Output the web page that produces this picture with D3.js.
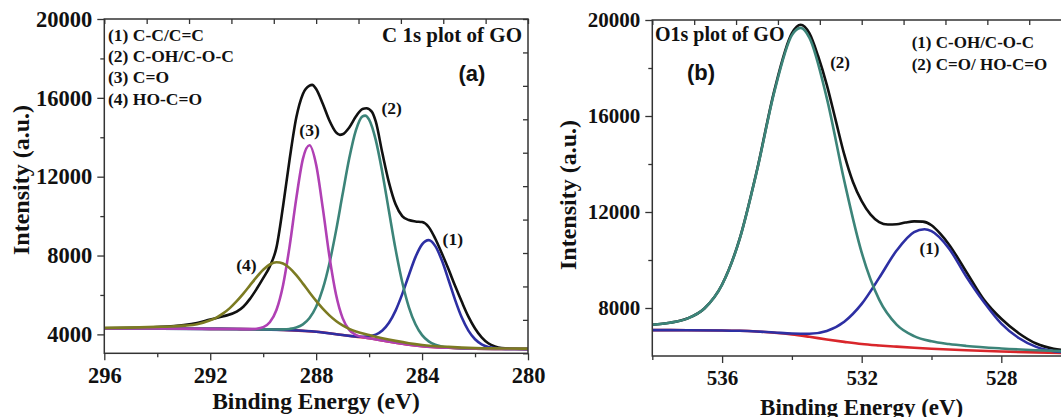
<!DOCTYPE html>
<html>
<head>
<meta http-equiv="Content-Type" content="text/html; charset=utf-8">
<title>XPS C 1s and O1s of GO</title>
<script src="https://d3js.org/d3.v7.min.js"></script>
<style>
  body { margin: 0; background: #ffffff; }
  svg text { font-family: "Liberation Serif", "Times New Roman", serif; font-weight: bold; fill: #111; }
  .axis line { stroke: #333; stroke-width: 1.3; }
  .axis path { display: none; }
  .frame { fill: none; stroke: #333; stroke-width: 1.5; }
  .curve { fill: none; stroke-width: 2.6; stroke-linejoin: round; }
</style>
</head>
<body>
<svg id="chart" width="1061" height="417"></svg>
<script>
// ---- C 1s panel (a): [binding energy eV, intensity a.u.]
var c1sEnvelope = [[296,4305],[295,4330],[294,4370],[293,4470],[292.5,4580],[292,4760],[291.5,4920],[291,5150],[290.75,5400],[290.5,5800],[290.25,6300],[290,6850],[289.75,7450],[289.5,8400],[289.25,10500],[289,12900],[288.75,15000],[288.5,16200],[288.25,16620],[288.15,16660],[288,16450],[287.75,15700],[287.5,14850],[287.25,14250],[287.1,14120],[287,14150],[286.75,14500],[286.5,15050],[286.25,15440],[286.1,15470],[285.9,15300],[285.75,14800],[285.5,13200],[285.25,11700],[285,10600],[284.75,10000],[284.5,9800],[284.25,9730],[284,9700],[283.75,9450],[283.5,8850],[283.25,8100],[283,7300],[282.75,6450],[282.5,5650],[282.25,4900],[282,4300],[281.75,3850],[281.5,3550],[281.25,3390],[281,3310],[280.5,3270],[280,3256]];
var c1sBackground = [[296,4305],[295,4300],[294,4295],[293,4290],[292,4280],[291,4270],[290,4255],[289.5,4240],[289,4215],[288.5,4180],[288,4135],[287.5,4060],[287,3965],[286.5,3880],[286,3800],[285.5,3690],[285,3580],[284.5,3480],[284,3405],[283.5,3355],[283,3320],[282.5,3290],[282,3272],[281,3260],[280,3254]];
var c1sPeak1 = [[296,4305],[294,4295],[292,4280],[290,4255],[289,4215],[288,4135],[287,3965],[286.5,3895],[286.25,3883],[286,3907],[285.75,3990],[285.5,4197],[285.25,4589],[285,5205],[284.75,6041],[284.5,7000],[284.25,7919],[284,8567],[283.75,8780],[283.5,8477],[283.25,7744],[283,6759],[282.75,5739],[282.5,4852],[282.25,4190],[282,3752],[281.75,3499],[281.5,3366],[281.25,3302],[281,3274],[280.5,3257],[280,3254]];
var c1sPeak2 = [[296,4305],[294,4295],[292,4280],[290,4255],[289.5,4248],[289.25,4252],[289,4277],[288.75,4347],[288.5,4508],[288.25,4830],[288,5403],[287.75,6306],[287.5,7598],[287.25,9251],[287,11117],[286.75,12931],[286.5,14348],[286.25,15061],[286.15,15100],[286,14895],[285.75,13865],[285.5,12205],[285.25,10244],[285,8312],[284.75,6655],[284.5,5384],[284.25,4513],[284,3960],[283.75,3645],[283.5,3472],[283.25,3385],[283,3338],[282.5,3290],[282,3272],[281,3260],[280,3254]];
var c1sPeak3 = [[296,4305],[294,4295],[292,4280],[291,4270],[290.5,4268],[290.25,4287],[290,4365],[289.75,4612],[289.5,5236],[289.25,6494],[289,8490],[288.75,10901],[288.5,12906],[288.25,13594],[288,12605],[287.75,10415],[287.5,7970],[287.25,6023],[287,4824],[286.75,4227],[286.5,3970],[286.25,3862],[286,3800],[285,3580],[284,3405],[283,3320],[282,3272],[281,3260],[280,3254]];
var c1sPeak4 = [[296,4330],[295,4345],[294,4380],[293.5,4399],[293,4442],[292.5,4516],[292,4713],[291.75,4865],[291.5,5077],[291.25,5346],[291,5684],[290.75,6068],[290.5,6486],[290.25,6903],[290,7276],[289.75,7545],[289.5,7662],[289.25,7595],[289,7362],[288.75,7002],[288.5,6575],[288.25,6127],[288,5699],[287.75,5305],[287.5,4966],[287.25,4681],[287,4455],[286.75,4282],[286.5,4149],[286,3965],[285.5,3805],[285,3669],[284.5,3552],[284,3465],[283,3364],[282,3305],[281,3286],[280,3275]];
var c1sXTicks = [296, 292, 288, 284, 280];
var c1sXMinor = [294, 290, 286, 282];
var c1sYTicks = [4000, 8000, 12000, 16000, 20000];
var c1sYMinor = [6000, 10000, 14000, 18000];
var c1sLegend = ["(1) C-C/C=C", "(2) C-OH/C-O-C", "(3) C=O", "(4) HO-C=O"];
var c1sPeakLabels = [["(1)", 282.84, 8840], ["(2)", 285.15, 15470], ["(3)", 288.25, 14400], ["(4)", 290.63, 7520]];

// ---- O1s panel (b)
var o1sEnvelope = [[538,7305],[537.5,7384],[537,7560],[536.5,7990],[536,8980],[535.5,10870],[535,13750],[534.5,17080],[534,19450],[533.75,19800],[533.5,19450],[533.25,18500],[533,17300],[532.75,15850],[532.5,14400],[532.25,13250],[532,12450],[531.75,11900],[531.5,11580],[531.25,11480],[531,11490],[530.75,11560],[530.5,11610],[530.25,11600],[530,11450],[529.75,11100],[529.5,10650],[529,9500],[528.5,8350],[528,7550],[527.5,6950],[527,6520],[526.5,6300],[526,6220]];
var o1sBackground = [[538,7080],[537,7075],[536,7065],[535.5,7050],[535,7020],[534.5,6970],[534,6900],[533.5,6800],[533,6690],[532.5,6590],[532,6500],[531.5,6440],[531,6390],[530.5,6345],[530,6305],[529,6240],[528,6190],[527,6150],[526,6120]];
var o1sPeak1 = [[538,7080],[537,7075],[536,7065],[535.5,7050],[535,7020],[534.5,6980],[534,6939],[533.5,6928],[533,7046],[532.5,7429],[532,8172],[531.5,9254],[531,10394],[530.5,11162],[530.2,11280],[530,11204],[529.5,10483],[529,9301],[528.5,8250],[528,7350],[527.5,6750],[527,6380],[526.5,6200],[526,6140]];
var o1sPeak2 = [[538,7305],[537.5,7384],[537,7559],[536.5,7988],[536,8973],[535.5,10855],[535,13729],[534.5,17023],[534,19367],[533.75,19670],[533.5,19267],[533,16743],[532.5,13299],[532,10305],[531.5,8348],[531,7308],[530.5,6829],[530,6611],[529.5,6497],[529,6419],[528,6315],[527,6242],[526,6190]];
var o1sXTicks = [536, 532, 528];
var o1sXMinor = [538, 534, 530, 526];
var o1sYTicks = [8000, 12000, 16000, 20000];
var o1sYMinor = [10000, 14000, 18000];
var o1sLegend = ["(1) C-OH/C-O-C", "(2) C=O/ HO-C=O"];
var o1sPeakLabels = [["(2)", 532.62, 18260], ["(1)", 530.06, 10490]];

var colors = { envelope: "#111111", background: "#d9262b", p1: "#2d2fa3", p2: "#3c8479", p3: "#b040b4", p4: "#7c7b22" };

var svg = d3.select("#chart");

function drawPanel(p) {
  var x = d3.scaleLinear().domain(p.xDomain).range([p.left, p.right]);
  var y = d3.scaleLinear().domain(p.yDomain).range([p.bottom, p.top]);
  var g = svg.append("g");

  var clipId = "clip-" + p.id;
  g.append("clipPath").attr("id", clipId)
    .append("rect").attr("x", p.left).attr("y", p.top - 4)
    .attr("width", p.right - p.left).attr("height", p.bottom - p.top + 4);

  var line = d3.line()
    .x(function(d) { return x(d[0]); })
    .y(function(d) { return y(d[1]); })
    .curve(d3.curveMonotoneX);

  var plot = g.append("g").attr("clip-path", "url(#" + clipId + ")");
  p.curves.forEach(function(c) {
    plot.append("path").attr("class", "curve")
      .attr("d", line(c.data))
      .attr("stroke", c.color);
  });

  // frame
  g.append("rect").attr("class", "frame")
    .attr("x", p.left).attr("y", p.top)
    .attr("width", p.right - p.left).attr("height", p.bottom - p.top);

  // bottom axis: major with labels, minor without
  g.append("g").attr("class", "axis").attr("transform", "translate(0," + p.bottom + ")")
    .call(d3.axisBottom(x).tickValues(p.xTicks).tickSize(7).tickPadding(p.xTickPad).tickFormat(d3.format("d")))
    .selectAll("text").style("font-size", p.tickFont).attr("fill", "#111");
  g.append("g").attr("class", "axis").attr("transform", "translate(0," + p.bottom + ")")
    .call(d3.axisBottom(x).tickValues(p.xMinor).tickSize(4).tickFormat(""));

  // left axis
  g.append("g").attr("class", "axis").attr("transform", "translate(" + p.left + ",0)")
    .call(d3.axisLeft(y).tickValues(p.yTicks).tickSize(7).tickPadding(5).tickFormat(d3.format("d")))
    .selectAll("text").style("font-size", p.tickFont).attr("fill", "#111");
  g.append("g").attr("class", "axis").attr("transform", "translate(" + p.left + ",0)")
    .call(d3.axisLeft(y).tickValues(p.yMinor).tickSize(4).tickFormat(""));

  // opposite axes: ten divisions, ticks pointing inward
  var topScale = d3.scaleLinear().domain([0, 10]).range([p.left, p.right]);
  g.append("g").attr("class", "axis").attr("transform", "translate(0," + p.top + ")")
    .call(d3.axisBottom(topScale).ticks(10).tickSize(5).tickFormat(""));
  var rightScale = d3.scaleLinear().domain([0, 10]).range([p.bottom, p.top]);
  g.append("g").attr("class", "axis").attr("transform", "translate(" + p.right + ",0)")
    .call(d3.axisLeft(rightScale).ticks(10).tickSize(5).tickFormat(""));

  // axis titles
  g.append("text").attr("x", p.xTitleX).attr("y", p.xTitleY)
    .attr("text-anchor", "middle").style("font-size", p.titleFont).text("Binding Energy (eV)");
  g.append("text").attr("transform", "translate(" + p.yTitleX + "," + p.yTitleY + ") rotate(-90)")
    .attr("text-anchor", "middle").style("font-size", "24px").text("Intensity (a.u.)");

  // title inside plot
  g.append("text").attr("x", p.titleX).attr("y", p.titleY).attr("text-anchor", p.titleAnchor)
    .style("font-size", p.headFont).text(p.title);
  g.append("text").attr("x", p.tagX).attr("y", p.tagY).attr("text-anchor", "middle")
    .style("font-family", "'Liberation Sans', Arial, sans-serif").style("font-size", "22px")
    .text(p.tag);

  // legend text
  g.selectAll(".legend").data(p.legend).enter().append("text")
    .attr("x", p.legendX).attr("y", function(d, i) { return p.legendY + i * p.legendStep; })
    .style("font-size", p.legendFont).text(function(d) { return d; });

  // peak labels
  g.selectAll(".peak").data(p.peakLabels).enter().append("text")
    .attr("x", function(d) { return x(d[1]); })
    .attr("y", function(d) { return y(d[2]); })
    .attr("dy", "0.35em").attr("text-anchor", "middle")
    .style("font-size", p.legendFont).text(function(d) { return d[0]; });
}

drawPanel({
  id: "c1s", left: 104.3, right: 528, top: 19, bottom: 353.3,
  xDomain: [296, 280], yDomain: [3040, 20000],
  xTicks: c1sXTicks, xMinor: c1sXMinor, yTicks: c1sYTicks, yMinor: c1sYMinor,
  curves: [
    { data: c1sEnvelope, color: colors.envelope },
    { data: c1sBackground, color: colors.background },
    { data: c1sPeak1, color: colors.p1 },
    { data: c1sPeak2, color: colors.p2 },
    { data: c1sPeak3, color: colors.p3 },
    { data: c1sPeak4, color: colors.p4 }
  ],
  tickFont: "22.5px", xTickPad: 7, titleFont: "23.5px", headFont: "21px", legendFont: "17.5px",
  xTitleX: 316, xTitleY: 409, yTitleX: 29, yTitleY: 180,
  title: "C 1s plot of GO", titleX: 522, titleY: 42, titleAnchor: "end",
  tag: "(a)", tagX: 472, tagY: 81,
  legend: c1sLegend, legendX: 108, legendY: 40.6, legendStep: 21.4,
  peakLabels: c1sPeakLabels
});

drawPanel({
  id: "o1s", left: 652.3, right: 1071.1, top: 20, bottom: 356,
  xDomain: [538, 526], yDomain: [6000, 20000],
  xTicks: o1sXTicks, xMinor: o1sXMinor, yTicks: o1sYTicks, yMinor: o1sYMinor,
  curves: [
    { data: o1sEnvelope, color: colors.envelope },
    { data: o1sBackground, color: colors.background },
    { data: o1sPeak1, color: colors.p1 },
    { data: o1sPeak2, color: colors.p2 }
  ],
  tickFont: "21px", xTickPad: 7, titleFont: "23px", headFont: "20px", legendFont: "17px",
  xTitleX: 861.7, xTitleY: 415, yTitleX: 575.5, yTitleY: 195,
  title: "O1s plot of GO", titleX: 655, titleY: 41, titleAnchor: "start",
  tag: "(b)", tagX: 701, tagY: 80,
  legend: o1sLegend, legendX: 911.7, legendY: 48.3, legendStep: 21.3,
  peakLabels: o1sPeakLabels
});
</script>
</body>
</html>
